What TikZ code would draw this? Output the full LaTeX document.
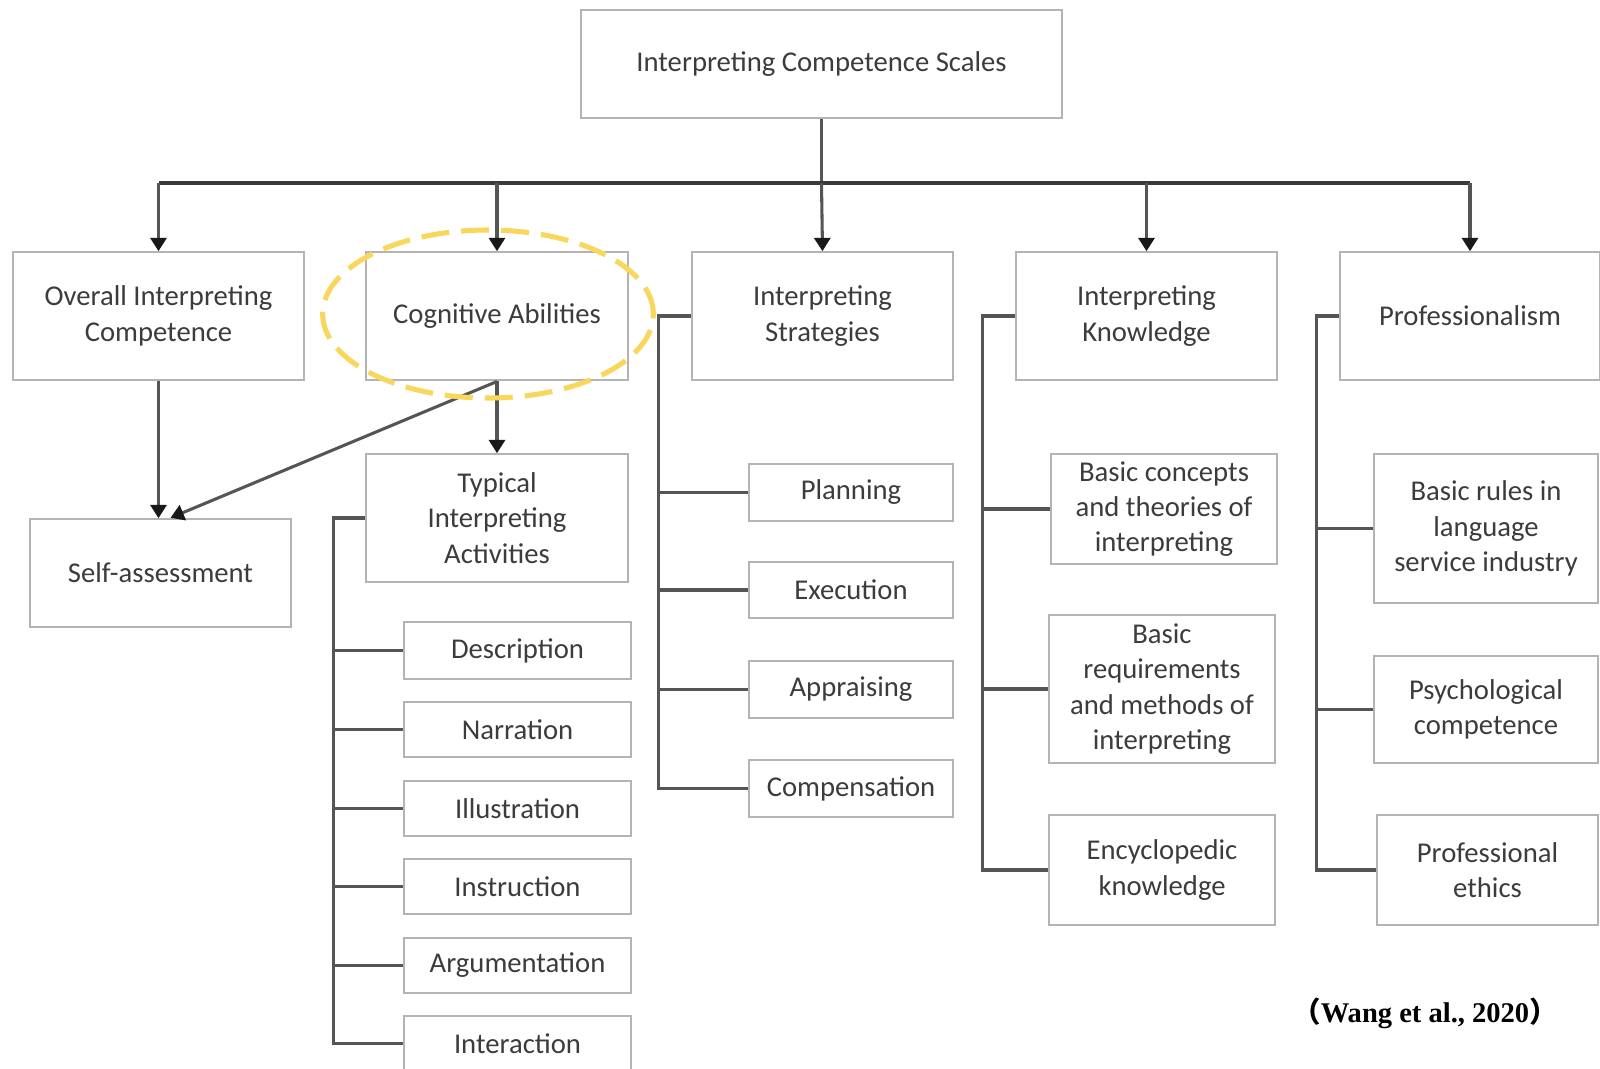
\documentclass[tikz,border=0pt]{standalone}
\usepackage{fontspec}
\setmainfont{Carlito}
\newfontfamily\citefont{Liberation Serif}
\newfontfamily\cjkfont{Noto Sans CJK SC}
\usetikzlibrary{arrows.meta,calc}

\definecolor{boxline}{HTML}{B4B4B4}
\definecolor{textgray}{HTML}{3C3C3C}
\definecolor{linkgray}{HTML}{555555}
\definecolor{busgray}{HTML}{3A3A3A}
\definecolor{markyellow}{HTML}{F9D65C}

% a box given by its left, top, right and bottom edges (in px units)
\newcommand\cellat[6]{%
  \node[cellbox, minimum width={(#4-#2)*0.75pt}, minimum height={(#5-#3)*0.75pt}]
    (#1) at ({(#2+#4)/2},{(#3+#5)/2}) {#6};}

\begin{document}
\begin{tikzpicture}[x=0.75pt,y=-0.75pt,
  cellbox/.style={draw=boxline, line width=2.2pt, fill=white, rectangle,
    inner sep=2pt, align=center, text=textgray,
    font=\fontsize{21.5pt}{26.5pt}\selectfont},
  link/.style={draw=linkgray, line width=2.3pt},
  bus/.style={draw=busgray, line width=3pt},
  arr/.style={link, -{Triangle[width=12pt,length=10pt,color=black!90]}, shorten >=-0.5pt},
  focus/.style={draw=markyellow, line width=3.8pt, dash pattern=on 21pt off 9pt}]

\useasboundingbox (0,0) rectangle (1600,1068);

% root and main categories
\cellat{top}{581}{10}{1062}{118}{Interpreting Competence Scales}
\cellat{ov}{13}{252}{304}{380}{Overall Interpreting\\Competence}
\cellat{cog}{366}{252}{628}{380}{Cognitive Abilities}
\cellat{strat}{692}{252}{953}{380}{Interpreting\\Strategies}
\cellat{know}{1016}{252}{1277}{380}{Interpreting\\Knowledge}
\cellat{prof}{1340}{252}{1600}{380}{Professionalism}

% second level
\cellat{self}{30}{519}{291}{627}{Self-assessment}
\cellat{typ}{366}{454}{628}{582}{Typical\\Interpreting\\Activities}

% typical interpreting activities
\cellat{desc}{404}{622}{631}{679}{Description}
\cellat{narr}{404}{702}{631}{757}{Narration}
\cellat{illu}{404}{781}{631}{836}{Illustration}
\cellat{instr}{404}{859}{631}{914}{Instruction}
\cellat{argu}{404}{938}{631}{993}{Argumentation}
\cellat{inter}{404}{1016}{631}{1071}{Interaction}

% interpreting strategies
\cellat{plan}{749}{464}{953}{521}{Planning}
\cellat{exec}{749}{562}{953}{618}{Execution}
\cellat{appr}{749}{661}{953}{718}{Appraising}
\cellat{comp}{749}{760}{953}{817}{Compensation}

% interpreting knowledge
\cellat{basc}{1051}{454}{1277}{564}{Basic concepts\\and theories of\\interpreting}
\cellat{basr}{1049}{615}{1275}{763}{Basic\\requirements\\and methods of\\interpreting}
\cellat{ency}{1049}{815}{1275}{925}{Encyclopedic\\knowledge}

% professionalism
\cellat{rules}{1374}{454}{1598}{603}{Basic rules in\\language\\service industry}
\cellat{psy}{1374}{656}{1598}{763}{Psychological\\competence}
\cellat{eth}{1377}{815}{1598}{925}{Professional\\ethics}

% root bus
\coordinate (hub) at ([yshift=-48pt]top.south);
\draw[link] (top.south) -- (hub);
\draw[bus] (ov.north |- hub) -- (prof.north |- hub);
\foreach \n in {ov,cog,know,prof} \draw[arr] (\n.north |- hub) -- (\n.north);
\draw[arr] (hub) -- (strat.north);

% self-assessment and typical activities
\draw[arr] (ov.south) -- (ov.south |- self.north);
\draw[arr] (cog.south) -- ([xshift=8pt]self.north);
\draw[arr] (cog.south) -- (typ.north);

% branch spines
\coordinate (tsp) at ([xshift=-23.25pt]typ.west);
\draw[link] (typ.west) -- (tsp) |- (inter.west);
\foreach \n in {desc,narr,illu,instr,argu} \draw[link] (\n.west) -- (\n.west -| tsp);

\coordinate (ssp) at ([xshift=-24pt]strat.west);
\draw[link] (strat.west) -- (ssp) |- (comp.west);
\foreach \n in {plan,exec,appr} \draw[link] (\n.west) -- (\n.west -| ssp);

\coordinate (ksp) at ([xshift=-24pt]know.west);
\draw[link] (know.west) -- (ksp) |- (ency.west);
\foreach \n in {basc,basr} \draw[link] (\n.west) -- (\n.west -| ksp);

\coordinate (psp) at ([xshift=-16.5pt]prof.west);
\draw[link] (prof.west) -- (psp) |- (eth.west);
\foreach \n in {rules,psy} \draw[link] (\n.west) -- (\n.west -| psp);

% highlight around cognitive abilities
\draw[focus] (488,314) ellipse [x radius=124pt, y radius=63pt];

% source note
\node[anchor=base, inner sep=0pt, font=\fontsize{21.4pt}{24pt}\selectfont\bfseries]
  (src) at (1425,1022) {{\cjkfont （}{\citefont Wang et al., 2020}{\cjkfont ）}};
\end{tikzpicture}
\end{document}
